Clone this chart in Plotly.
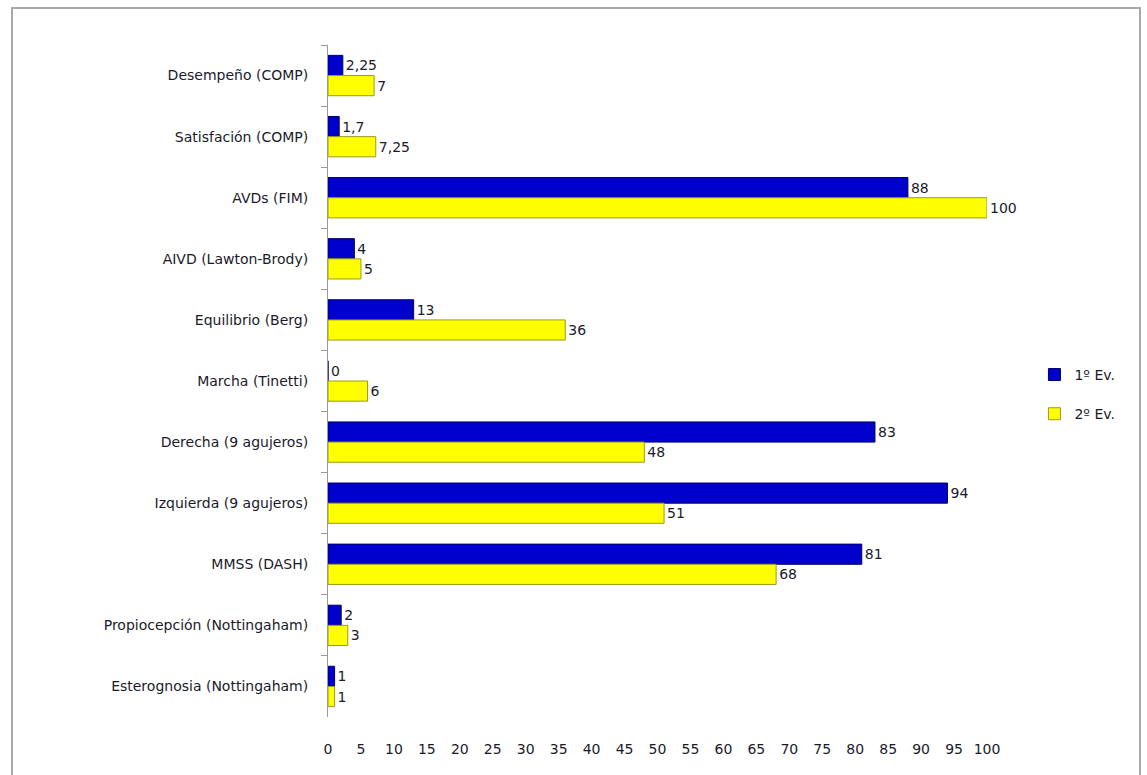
import plotly.graph_objects as go

categories = ["Desempeño (COMP)", "Satisfación (COMP)", "AVDs (FIM)", "AIVD (Lawton-Brody)",
              "Equilibrio (Berg)", "Marcha (Tinetti)", "Derecha (9 agujeros)",
              "Izquierda (9 agujeros)", "MMSS (DASH)", "Propiocepción (Nottingaham)",
              "Esterognosia (Nottingaham)"]
ev1 = [2.25, 1.7, 88, 4, 13, 0, 83, 94, 81, 2, 1]
ev2 = [7, 7.25, 100, 5, 36, 6, 48, 51, 68, 3, 1]
ev1_text = ["2,25", "1,7", "88", "4", "13", "0", "83", "94", "81", "2", "1"]
ev2_text = ["7", "7,25", "100", "5", "36", "6", "48", "51", "68", "3", "1"]
x_ticks = list(range(0, 101, 5))

W, H = 1147, 775
L, R, T, B = 328, 987, 45, 717

font = dict(family="DejaVu Sans", size=14, color="#1a1a2a")

fig = go.Figure()
fig.add_trace(go.Bar(y=categories, x=ev1, orientation="h", name="1º Ev.",
                     marker=dict(color="#0000CC", line=dict(color="#00006A", width=1)),
                     text=ev1_text, textposition="outside", cliponaxis=False,
                     textfont=font, legendgroup="a"))
fig.add_trace(go.Bar(y=categories, x=ev2, orientation="h", name="2º Ev.",
                     marker=dict(color="#FFFF00", line=dict(color="#9A9A20", width=1)),
                     text=ev2_text, textposition="outside", cliponaxis=False,
                     textfont=font, legendgroup="b"))

def px_x(p):
    return (p - L) / (R - L)

def px_y(p):
    return (B - p) / (B - T)

fig.update_layout(
    width=W, height=H,
    margin=dict(l=L, r=W - R, t=T, b=H - B),
    paper_bgcolor="white", plot_bgcolor="white",
    barmode="group", bargap=0.34, bargroupgap=0.0,
    font=font,
    showlegend=True,
    legend=dict(x=1.072, y=0.48, xanchor="left", yanchor="middle",
                font=dict(family="DejaVu Sans", size=14, color="#1a1a2a"),
                tracegroupgap=18, bgcolor="rgba(0,0,0,0)"),
    xaxis=dict(range=[0, 100], tickmode="array", tickvals=x_ticks,
               ticktext=[str(v) for v in x_ticks], showgrid=False, zeroline=False,
               showline=False, ticks="", ticklabelstandoff=22,
               tickfont=font, fixedrange=True),
    yaxis=dict(autorange="reversed", showgrid=False, zeroline=False,
               showline=True, linecolor="#9a9a9a", linewidth=1,
               ticks="outside", ticklen=6, tickcolor="#9a9a9a",
               tickson="boundaries", ticklabelstandoff=16,
               tickfont=font, fixedrange=True),
    shapes=[dict(type="rect", xref="paper", yref="paper",
                 x0=px_x(12), x1=px_x(1140), y0=px_y(800), y1=px_y(8),
                 line=dict(color="#a8a8a8", width=2), fillcolor="rgba(0,0,0,0)",
                 layer="below")],
)

fig.write_html("out.html")
